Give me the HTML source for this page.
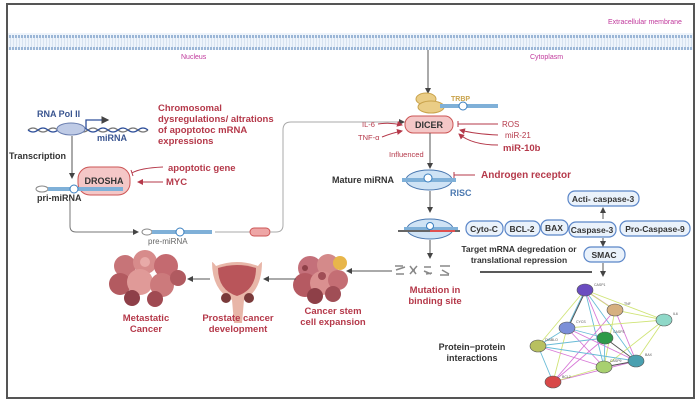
<!DOCTYPE html>
<html><head><meta charset="utf-8"><style>
html,body{margin:0;padding:0;background:#fff;}
svg{display:block;font-family:"Liberation Sans",sans-serif;}
.r{fill:#b5394a;font-weight:bold;}
.k{fill:#333;font-weight:bold;}
.bx{fill:#eaf2fb;stroke:#5b86c8;stroke-width:1.2;}
</style></head><body>
<svg width="700" height="403" viewBox="0 0 700 403">
<defs>
<marker id="a" markerWidth="6" markerHeight="6" refX="5" refY="3" orient="auto"><path d="M0,0L6,3L0,6z" fill="#444"/></marker>
<marker id="ar" markerWidth="6" markerHeight="6" refX="5" refY="3" orient="auto"><path d="M0,0L6,3L0,6z" fill="#b5394a"/></marker>
<pattern id="mem" width="3" height="17" patternUnits="userSpaceOnUse"><rect width="3" height="17" fill="#eef4fb"/><rect x="0" y="1" width="2" height="3" fill="#9bb6d6"/><rect x="0" y="13" width="2" height="3" fill="#9bb6d6"/><rect x="1" y="4" width="0.6" height="9" fill="#c9d8ea"/></pattern>
</defs>
<rect x="7" y="4" width="687" height="394" fill="#fff" stroke="#555" stroke-width="2"/>
<text x="608" y="24" font-size="7" fill="#c0399c">Extracellular membrane</text>
<rect x="8" y="33" width="685" height="17" fill="url(#mem)"/>
<text x="181" y="59" font-size="7" fill="#c0399c">Nucleus</text>
<text x="530" y="59" font-size="7" fill="#c0399c">Cytoplasm</text>
<line x1="428" y1="50" x2="428" y2="93" stroke="#555" marker-end="url(#a)"/>

<text x="37" y="117" font-size="9" font-weight="bold" fill="#3a5590">RNA Pol II</text>
<path d="M28,130 q5,-4 10,0 t10,0 t10,0 t10,0 t10,0 t10,0 t10,0 t10,0 t10,0 t10,0 t10,0 t10,0" fill="none" stroke="#777" stroke-width="1.2"/>
<path d="M28,130 q5,4 10,0 t10,0 t10,0 t10,0 t10,0 t10,0 t10,0 t10,0 t10,0 t10,0 t10,0 t10,0" fill="none" stroke="#2e4f9a" stroke-width="1.2"/>
<ellipse cx="71" cy="129" rx="14" ry="6" fill="#bfcbe6" stroke="#6b7fb0"/>
<path d="M86,129 V120 H108" fill="none" stroke="#2e4f9a" stroke-width="1.3" marker-end="url(#a)"/>
<text x="97" y="141" font-size="9" font-weight="bold" fill="#3a5590">miRNA</text>
<text class="r" font-size="9.5"><tspan x="158" y="111">Chromosomal</tspan><tspan x="158" y="122">dysregulations/ altrations</tspan><tspan x="158" y="133">of  apoptotoc mRNA</tspan><tspan x="158" y="144">expressions</tspan></text>
<text x="9" y="159" font-size="9" class="k">Transcription</text>
<line x1="72" y1="136" x2="72" y2="178" stroke="#555" marker-end="url(#a)"/>
<rect x="78" y="167" width="52" height="28" rx="12" fill="#f4c7c7" stroke="#c55"/>
<text x="104" y="184" font-size="9" class="k" text-anchor="middle">DROSHA</text>
<path d="M163,167 Q140,168 132,173" fill="none" stroke="#b5394a"/>
<line x1="131" y1="170" x2="133" y2="176" stroke="#b5394a"/>
<line x1="163" y1="182" x2="138" y2="182" stroke="#b5394a" marker-end="url(#ar)"/>
<text x="168" y="171" font-size="9.5" class="r">apoptotic gene</text>
<text x="166" y="185" font-size="9.5" class="r">MYC</text>
<ellipse cx="42" cy="189" rx="6" ry="3" fill="#fff" stroke="#888"/>
<rect x="48" y="187" width="75" height="4" fill="#7fb0d8"/>
<circle cx="74" cy="189" r="4" fill="#fff" stroke="#3a7fbf"/>
<text x="37" y="201" font-size="9" class="k">pri-miRNA</text>
<path d="M70,200 V226 Q70,232 76,232 H138" fill="none" stroke="#777" marker-end="url(#a)"/>
<ellipse cx="147" cy="232" rx="5" ry="3" fill="#fff" stroke="#888"/>
<rect x="152" y="230" width="60" height="4" fill="#7fb0d8"/>
<circle cx="180" cy="232" r="4" fill="#fff" stroke="#3a7fbf"/>
<text x="148" y="244" font-size="8" fill="#666">pre-miRNA</text>
<line x1="215" y1="232" x2="250" y2="232" stroke="#aaa"/>
<rect x="250" y="228" width="20" height="8" rx="4" fill="#eea6a6" stroke="#c55"/>
<path d="M270,232 H276 Q283,232 283,225 V130 Q283,122 291,122 H404" fill="none" stroke="#aaa" marker-end="url(#a)"/>

<ellipse cx="426" cy="99" rx="10" ry="6" fill="#eacd86" stroke="#c9a34c"/>
<ellipse cx="431" cy="107" rx="13" ry="6" fill="#eacd86" stroke="#c9a34c"/>
<rect x="440" y="104" width="58" height="4" fill="#7fb0d8"/>
<circle cx="463" cy="106" r="4" fill="#fff" stroke="#3a7fbf"/>
<text x="451" y="101" font-size="7" fill="#c9a34c" font-weight="bold">TRBP</text>
<rect x="405" y="116" width="48" height="17" rx="8" fill="#f4c7c7" stroke="#c55"/>
<text x="429" y="128" font-size="9" class="k" text-anchor="middle">DICER</text>
<text x="362" y="127" font-size="7.5" fill="#b5394a">IL-6</text>
<text x="358" y="140" font-size="7.5" fill="#b5394a">TNF-α</text>
<path d="M378,124 Q390,122 402,125" fill="none" stroke="#b5394a" marker-end="url(#ar)"/>
<path d="M382,137 Q392,133 402,131" fill="none" stroke="#b5394a" marker-end="url(#ar)"/>
<line x1="498" y1="124" x2="458" y2="124" stroke="#b5394a"/><line x1="458" y1="121" x2="458" y2="127" stroke="#b5394a"/>
<path d="M498,135 Q475,134 460,130" fill="none" stroke="#b5394a" marker-end="url(#ar)"/>
<path d="M498,145 Q472,145 459,134" fill="none" stroke="#b5394a" marker-end="url(#ar)"/>
<text x="502" y="127" font-size="8" fill="#b5394a">ROS</text>
<text x="505" y="138" font-size="8" fill="#b5394a">miR-21</text>
<text x="503" y="151" font-size="9.5" class="r">miR-10b</text>
<text x="389" y="157" font-size="7.5" fill="#b5394a">Influenced</text>
<line x1="430" y1="133" x2="430" y2="168" stroke="#555" marker-end="url(#a)"/>

<text x="332" y="183" font-size="9" class="k">Mature miRNA</text>
<ellipse cx="429" cy="180" rx="23" ry="10" fill="#cfe3f5" stroke="#4a78b0"/>
<rect x="402" y="178" width="54" height="4" fill="#7fb0d8"/>
<circle cx="428" cy="178" r="4" fill="#fff" stroke="#3a7fbf"/>
<text x="450" y="196" font-size="9" font-weight="bold" fill="#4a78b0">RISC</text>
<line x1="475" y1="175" x2="454" y2="175" stroke="#b5394a"/><line x1="454" y1="172" x2="454" y2="178" stroke="#b5394a"/>
<text x="481" y="178" font-size="10" class="r">Androgen receptor</text>
<line x1="430" y1="191" x2="430" y2="212" stroke="#555" marker-end="url(#a)"/>
<ellipse cx="430" cy="229" rx="23" ry="10" fill="#cfe3f5" stroke="#4a78b0"/>
<line x1="398" y1="231" x2="460" y2="231" stroke="#666" stroke-width="2"/>
<rect x="404" y="227" width="54" height="3" fill="#7fb0d8"/>
<line x1="430" y1="231" x2="455" y2="231" stroke="#e05050" stroke-width="2"/>
<circle cx="430" cy="226" r="3.5" fill="#fff" stroke="#3a7fbf"/>
<g font-size="8.5" font-weight="bold" fill="#333" text-anchor="middle">
<rect class="bx" x="466" y="221" width="37" height="15" rx="7"/><text x="484" y="232">Cyto-C</text>
<rect class="bx" x="505" y="221" width="35" height="15" rx="7"/><text x="522" y="232">BCL-2</text>
<rect class="bx" x="541" y="220" width="27" height="15" rx="7"/><text x="554" y="231">BAX</text>
<rect class="bx" x="569" y="222" width="47" height="15" rx="7"/><text x="592" y="233">Caspase-3</text>
<rect class="bx" x="620" y="221" width="70" height="15" rx="7"/><text x="655" y="232">Pro-Caspase-9</text>
<rect class="bx" x="568" y="191" width="71" height="15" rx="7"/><text x="603" y="202">Acti- caspase-3</text>
<rect class="bx" x="584" y="247" width="41" height="15" rx="7"/><text x="604" y="258">SMAC</text>
<text x="519" y="252">Target mRNA degredation or</text>
<text x="519" y="263">translational repression</text>
</g>
<line x1="603" y1="219" x2="603" y2="208" stroke="#555" marker-end="url(#a)"/>
<line x1="603" y1="238" x2="603" y2="246" stroke="#555" marker-end="url(#a)"/>
<line x1="603" y1="263" x2="603" y2="276" stroke="#555" marker-end="url(#a)"/>
<line x1="430" y1="240" x2="430" y2="258" stroke="#555" marker-end="url(#a)"/>
<line x1="480" y1="272" x2="592" y2="272" stroke="#222" stroke-width="1.5"/>
<g stroke="#888" stroke-width="1.5" fill="none">
<path d="M395,266 l8,0 M396,270 l9,-3 M396,274 l8,0"/>
<path d="M410,266 l6,8 M410,274 l7,-8 M412,270 l3,0"/>
<path d="M424,267 l7,0 M424,271 l7,3 M426,274 l6,-1"/>
<path d="M440,266 l10,0 M442,270 l7,4 M440,275 l9,0"/>
</g>
<line x1="392" y1="271" x2="347" y2="271" stroke="#555" marker-end="url(#a)"/>
<text x="435" y="293" font-size="9.5" class="r" text-anchor="middle">Mutation in</text>
<text x="435" y="304" font-size="9.5" class="r" text-anchor="middle">binding site</text>

<g>
<circle cx="310" cy="268" r="12" fill="#c4707a"/><circle cx="328" cy="265" r="11" fill="#d48a8a"/>
<circle cx="340" cy="263" r="7" fill="#e8b64a"/><circle cx="305" cy="285" r="12" fill="#b55a62"/>
<circle cx="322" cy="283" r="12" fill="#da9090"/><circle cx="338" cy="280" r="10" fill="#c46e74"/>
<circle cx="315" cy="296" r="8" fill="#8e4048"/><circle cx="333" cy="294" r="8" fill="#a04e56"/>
<circle cx="322" cy="276" r="4" fill="#a04e56"/><circle cx="305" cy="268" r="3" fill="#8e4048"/>
</g>
<text x="333" y="314" font-size="9.5" class="r" text-anchor="middle">Cancer stem</text>
<text x="333" y="325" font-size="9.5" class="r" text-anchor="middle">cell expansion</text>
<line x1="296" y1="279" x2="264" y2="279" stroke="#555" marker-end="url(#a)"/>
<path d="M212,262 Q213,262 216,266 Q237,258 258,266 Q261,262 262,262 Q262,290 244,300 L242,323 L234,323 L232,300 Q212,290 212,262z" fill="#e8b6a8"/>
<path d="M218,268 Q237,262 256,268 Q256,290 237,296 Q218,290 218,268z" fill="#b9555a"/>
<circle cx="226" cy="298" r="5" fill="#7a3a3a"/><circle cx="249" cy="298" r="5" fill="#7a3a3a"/>
<text x="238" y="321" font-size="9.5" class="r" text-anchor="middle">Prostate cancer</text>
<text x="238" y="332" font-size="9.5" class="r" text-anchor="middle">development</text>
<line x1="210" y1="279" x2="188" y2="279" stroke="#555" marker-end="url(#a)"/>
<g>
<circle cx="125" cy="266" r="11" fill="#c77478"/><circle cx="145" cy="262" r="12" fill="#d78b8b"/>
<circle cx="166" cy="266" r="12" fill="#c46a70"/><circle cx="120" cy="284" r="11" fill="#b35a60"/>
<circle cx="140" cy="282" r="13" fill="#e09a98"/><circle cx="162" cy="285" r="12" fill="#cc7a7c"/>
<circle cx="178" cy="278" r="8" fill="#b05a60"/><circle cx="132" cy="298" r="8" fill="#8e3f48"/>
<circle cx="155" cy="299" r="8" fill="#a04a52"/><circle cx="145" cy="262" r="5" fill="#e8aaa8"/>
</g>
<text x="146" y="321" font-size="9.5" class="r" text-anchor="middle">Metastatic</text>
<text x="146" y="332" font-size="9.5" class="r" text-anchor="middle">Cancer</text>

<g stroke-width="0.9" opacity="0.85">
<line x1="585" y1="290" x2="615" y2="310" stroke="#d060d0"/><line x1="586" y1="291" x2="616" y2="311" stroke="#c8e060"/>
<line x1="585" y1="290" x2="664" y2="320" stroke="#c8e060"/>
<line x1="585" y1="290" x2="567" y2="328" stroke="#50b0d0"/><line x1="586" y1="290" x2="568" y2="328" stroke="#333"/>
<line x1="585" y1="290" x2="605" y2="338" stroke="#d060d0"/><line x1="585" y1="290" x2="636" y2="361" stroke="#50b0d0"/>
<line x1="585" y1="290" x2="604" y2="367" stroke="#50b0d0"/><line x1="585" y1="290" x2="538" y2="346" stroke="#c8e060"/>
<line x1="615" y1="310" x2="664" y2="320" stroke="#c8e060"/><line x1="615" y1="310" x2="636" y2="361" stroke="#d060d0"/>
<line x1="615" y1="310" x2="553" y2="382" stroke="#d060d0"/><line x1="615" y1="310" x2="604" y2="367" stroke="#c8e060"/>
<line x1="664" y1="320" x2="567" y2="328" stroke="#c8e060"/><line x1="664" y1="320" x2="636" y2="361" stroke="#c8e060"/>
<line x1="664" y1="320" x2="604" y2="367" stroke="#c8e060"/>
<line x1="567" y1="328" x2="605" y2="338" stroke="#50b0d0"/><line x1="567" y1="328" x2="636" y2="361" stroke="#d060d0"/>
<line x1="567" y1="328" x2="538" y2="346" stroke="#50b0d0"/><line x1="567" y1="328" x2="604" y2="367" stroke="#d060d0"/>
<line x1="567" y1="328" x2="553" y2="382" stroke="#c8e060"/>
<line x1="605" y1="338" x2="636" y2="361" stroke="#333"/><line x1="605" y1="338" x2="538" y2="346" stroke="#50b0d0"/>
<line x1="605" y1="338" x2="553" y2="382" stroke="#d060d0"/><line x1="605" y1="338" x2="604" y2="367" stroke="#50b0d0"/>
<line x1="538" y1="346" x2="636" y2="361" stroke="#50b0d0"/><line x1="538" y1="346" x2="604" y2="367" stroke="#d060d0"/>
<line x1="538" y1="346" x2="553" y2="382" stroke="#50b0d0"/>
<line x1="636" y1="361" x2="553" y2="382" stroke="#d060d0"/><line x1="636" y1="361" x2="604" y2="367" stroke="#333"/>
<line x1="604" y1="367" x2="553" y2="382" stroke="#c8e060"/>
</g>
<g stroke="#555" stroke-width="0.6">
<ellipse cx="585" cy="290" rx="8" ry="6" fill="#6a4cc0"/>
<ellipse cx="615" cy="310" rx="8" ry="6" fill="#d6b080"/>
<ellipse cx="664" cy="320" rx="8" ry="6" fill="#8fd8c8"/>
<ellipse cx="567" cy="328" rx="8" ry="6" fill="#7b8fd8"/>
<ellipse cx="605" cy="338" rx="8" ry="6" fill="#2e9a4a"/>
<ellipse cx="538" cy="346" rx="8" ry="6" fill="#b8c060"/>
<ellipse cx="636" cy="361" rx="8" ry="6" fill="#4aa0b0"/>
<ellipse cx="604" cy="367" rx="8" ry="6" fill="#a8d070"/>
<ellipse cx="553" cy="382" rx="8" ry="6" fill="#d84848"/>
</g>
<g font-size="3.5" fill="#555">
<text x="594" y="286">CASP1</text><text x="624" y="305">TNF</text><text x="673" y="315">IL6</text>
<text x="576" y="323">CYCS</text><text x="613" y="333">CASP3</text><text x="545" y="341">DIABLO</text>
<text x="645" y="356">BAX</text><text x="610" y="362">CASP9</text><text x="562" y="378">BCL2</text>
</g>
<text x="472" y="350" font-size="9" class="k" text-anchor="middle">Protein−protein</text>
<text x="472" y="361" font-size="9" class="k" text-anchor="middle">interactions</text>
</svg>
</body></html>
